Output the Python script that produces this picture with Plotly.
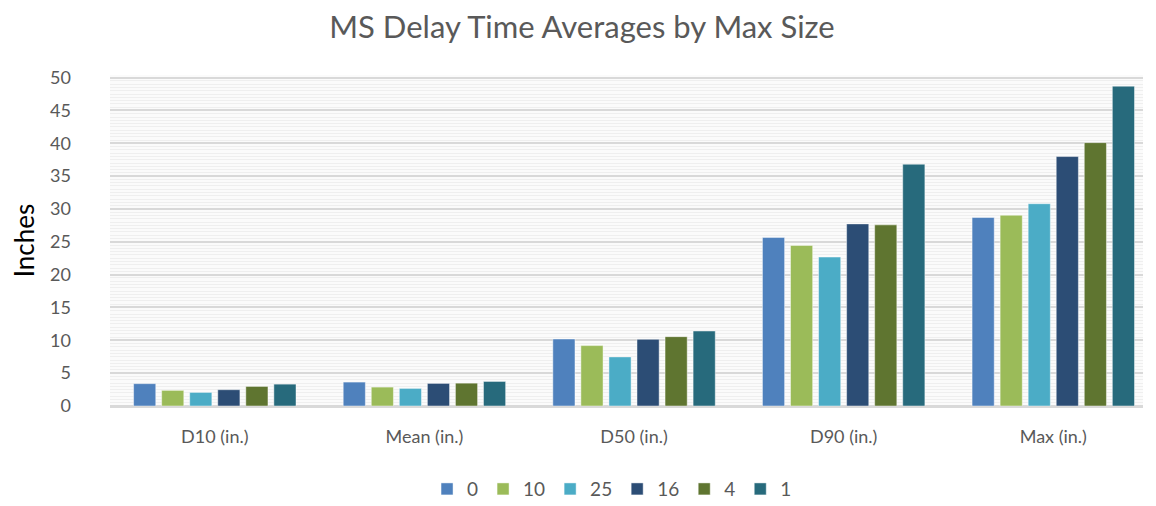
import plotly.graph_objects as go

categories = ["D10 (in.)", "Mean (in.)", "D50 (in.)", "D90 (in.)", "Max (in.)"]
series_names = ["0", "10", "25", "16", "4", "1"]
s0 = [3.4, 3.64, 10.2, 25.67, 28.7]
s10 = [2.38, 2.88, 9.2, 24.45, 29.05]
s25 = [2.07, 2.68, 7.48, 22.68, 30.8]
s16 = [2.48, 3.44, 10.15, 27.73, 37.98]
s4 = [2.98, 3.48, 10.56, 27.58, 40.1]
s1 = [3.33, 3.74, 11.42, 36.82, 48.7]
series_values = [s0, s10, s25, s16, s4, s1]
colors = ["#4f81bd", "#9bbb59", "#4bacc6", "#2c4d75", "#5f7530", "#276a7c"]
y_ticks = [0, 5, 10, 15, 20, 25, 30, 35, 40, 45, 50]

FONT = "Lato, Carlito, Calibri, sans-serif"
TXT = "#595959"

fig = go.Figure()
for name, vals, c in zip(series_names, series_values, colors):
    fig.add_trace(go.Bar(
        x=categories, y=vals, name=name,
        marker=dict(color=c, line=dict(color="rgba(255,255,255,0.45)", width=1)),
    ))

fig.update_layout(
    width=1148, height=498,
    barmode="group", bargap=0.197, bargroupgap=0.21,
    paper_bgcolor="white", plot_bgcolor="#fbfbfb",
    margin=dict(l=92, r=13, t=67, b=100),
    title=dict(text="MS Delay Time Averages by Max Size", x=0.5, xanchor="center",
               y=0.962, yanchor="middle",
               font=dict(family=FONT, size=31, color=TXT)),
    font=dict(family=FONT, color=TXT, size=18),
    legend=dict(orientation="h", x=0.486, xanchor="center", xref="paper",
                y=0.034, yanchor="middle", yref="container",
                font=dict(size=19, color=TXT), traceorder="normal", itemwidth=30),
    showlegend=True,
)
fig.update_xaxes(range=[-0.5, 4.428], showgrid=False, showline=True, linecolor="#d9d9d9",
                 linewidth=1.5, ticks="", tickfont=dict(size=18, color=TXT),
                 ticklabelstandoff=14)
fig.update_yaxes(range=[0, 50.4], tickvals=y_ticks, showgrid=True, gridcolor="#d9d9d9",
                 gridwidth=1.5, zeroline=True, zerolinecolor="#d9d9d9", zerolinewidth=1.5,
                 tickfont=dict(size=18, color=TXT), ticklabelstandoff=38,
                 minor=dict(dtick=0.5, showgrid=True, gridcolor="#efefef", gridwidth=1),
                 title=dict(text="Inches", font=dict(size=26, color="#000000"), standoff=12))

fig.write_html("out.html")
